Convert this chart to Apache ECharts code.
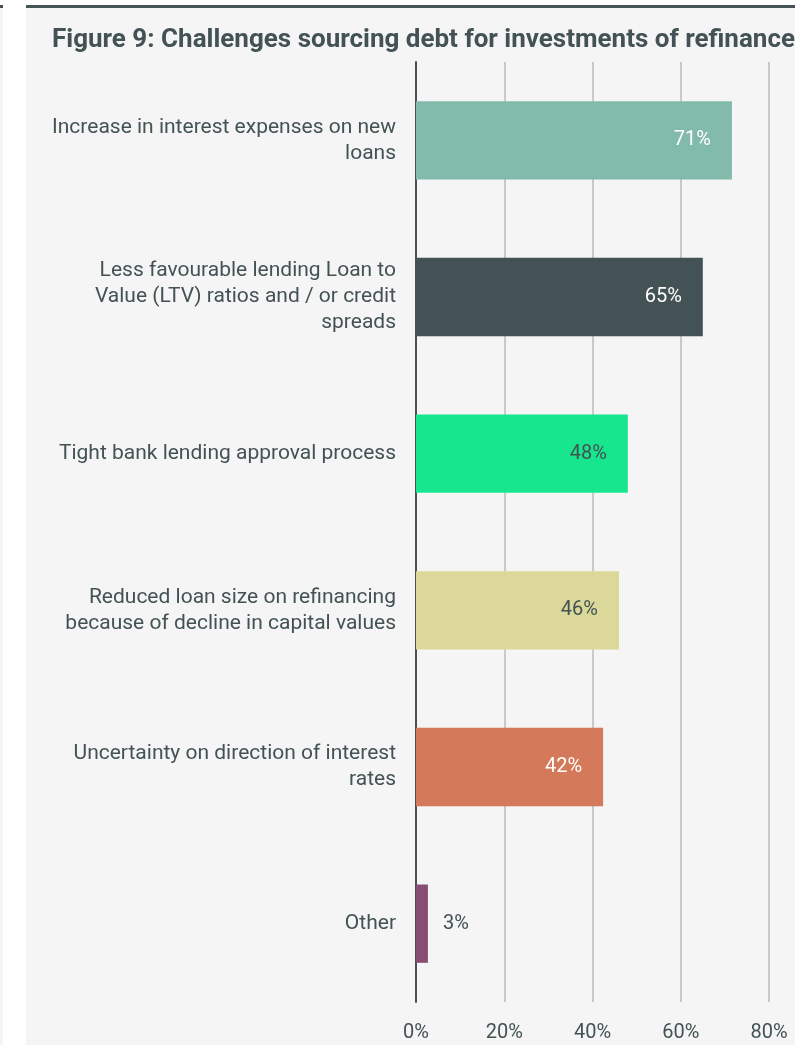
<!DOCTYPE html>
<html>
<head>
<meta charset="utf-8">
<script src="https://cdn.jsdelivr.net/npm/echarts@6/dist/echarts.min.js"></script>
<style>
  html, body { margin: 0; padding: 0; background: #ffffff; }
  #strip { position: absolute; left: 0; top: 5px; width: 3px; height: 1040px; background: #f5f5f5; border-top: 3px solid #445356; box-sizing: border-box; }
  #panel { position: absolute; left: 26px; top: 5px; width: 769px; height: 1040px; background: #f5f5f5; border-top: 3px solid #445356; box-sizing: border-box; }
  #chart { position: absolute; left: 0; top: 0; width: 795px; height: 1045px; }
</style>
</head>
<body>
<div id="strip"></div>
<div id="panel"></div>
<div id="chart"></div>
<script>
// Data
const categories = [
  'Increase in interest expenses on new\nloans',
  'Less favourable lending Loan to\nValue (LTV) ratios and / or credit\nspreads',
  'Tight bank lending approval process',
  'Reduced loan size on refinancing\nbecause of decline in capital values',
  'Uncertainty on direction of interest\nrates',
  'Other'
];
const values = [71.6, 65, 48, 46, 42.4, 2.7];
const valueLabels = ['71%', '65%', '48%', '46%', '42%', '3%'];
const barColors = ['#82bbab', '#435254', '#17e68f', '#dbd89a', '#d47a5a', '#884e72'];
const labelColors = ['#ffffff', '#ffffff', '#435254', '#435254', '#ffffff', '#435254'];
const tickValues = [0, 20, 40, 60, 80];

const textColor = '#435254';
const font = 'Roboto, "Noto Sans", sans-serif';

const chart = echarts.init(document.getElementById('chart'), null, { renderer: 'canvas' });

chart.setOption({
  backgroundColor: 'transparent',
  animation: false,
  title: {
    text: 'Figure 9: Challenges sourcing debt for investments of refinance',
    left: 47,
    top: 22,
    textStyle: { color: textColor, fontSize: 26, fontWeight: 'bold', fontFamily: font }
  },
  grid: { left: 416, right: 26, top: 62, bottom: 43, containLabel: false },
  xAxis: {
    type: 'value',
    min: tickValues[0],
    max: tickValues[tickValues.length - 1],
    interval: 20,
    axisLine: { show: false },
    axisTick: { show: false },
    axisLabel: {
      color: textColor,
      fontSize: 20,
      fontFamily: font,
      margin: 21,
      formatter: v => v + '%'
    },
    splitLine: { show: true, lineStyle: { color: '#c9c9c9', width: 2 } }
  },
  yAxis: {
    type: 'category',
    inverse: true,
    data: categories,
    axisLine: { show: true, lineStyle: { color: '#435254', width: 2 } },
    axisTick: { show: false },
    axisLabel: {
      color: textColor,
      fontSize: 21,
      fontFamily: font,
      margin: 20,
      lineHeight: 26,
      align: 'right'
    }
  },
  series: [{
    type: 'bar',
    barWidth: '50%',
    data: values.map((v, i) => ({
      value: v,
      itemStyle: { color: barColors[i] },
      label: {
        show: true,
        position: v < 10 ? 'right' : 'insideRight',
        distance: v < 10 ? 15 : 21,
        color: labelColors[i],
        fontSize: 20,
        fontFamily: font,
        formatter: () => valueLabels[i]
      }
    }))
  }]
});
</script>
</body>
</html>
